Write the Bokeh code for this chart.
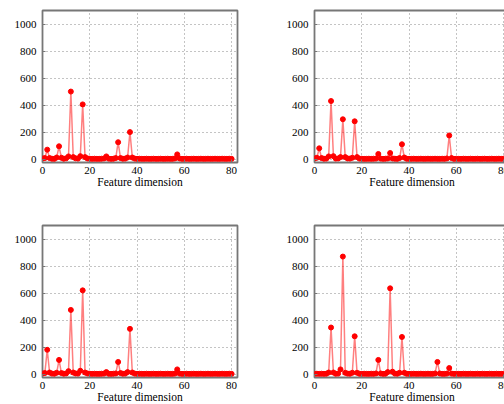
import numpy as np
from bokeh.plotting import figure
from bokeh.layouts import gridplot, column
from bokeh.models import FixedTicker, Range1d
from bokeh.embed import file_html
from bokeh.resources import INLINE

dims = list(range(81))
x_ticks = [0, 20, 40, 60, 80]
y_ticks = [0, 200, 400, 600, 800, 1000]
x_label = "Feature dimension"

s1 = [
    5, 8, 70, 8, 3, 2, 12, 95, 10, 3,
    6, 20, 500, 15, 6, 4, 22, 405, 15, 5,
    3, 2, 3, 2, 2, 3, 5, 20, 4, 2,
    3, 8, 125, 8, 3, 4, 12, 200, 12, 4,
    2, 3, 2, 2, 3, 2, 2, 3, 2, 2,
    3, 2, 2, 3, 2, 2, 5, 35, 5, 2,
    2, 3, 2, 2, 3, 2, 2, 3, 2, 2,
    3, 2, 2, 3, 2, 2, 3, 2, 2, 3,
    2]

s2 = [
    5, 10, 80, 8, 3, 4, 20, 430, 22, 4,
    5, 15, 295, 15, 5, 4, 10, 280, 15, 4,
    3, 2, 2, 3, 2, 3, 4, 38, 4, 2,
    3, 5, 45, 5, 3, 2, 8, 110, 12, 3,
    2, 2, 3, 2, 2, 3, 2, 2, 3, 2,
    2, 3, 2, 2, 3, 2, 5, 175, 8, 2,
    3, 2, 2, 3, 2, 2, 3, 2, 2, 3,
    2, 2, 3, 2, 2, 3, 2, 2, 3, 2,
    3]

s3 = [
    5, 8, 180, 12, 4, 3, 10, 105, 8, 3,
    5, 22, 475, 12, 5, 4, 25, 620, 12, 5,
    3, 2, 3, 2, 2, 3, 4, 15, 3, 2,
    3, 5, 90, 8, 3, 4, 15, 335, 12, 4,
    2, 3, 2, 2, 3, 2, 2, 3, 2, 2,
    3, 2, 2, 3, 2, 2, 4, 35, 4, 2,
    2, 3, 2, 2, 3, 2, 2, 3, 2, 2,
    3, 2, 2, 3, 2, 2, 3, 2, 2, 3,
    2]

s4 = [
    3, 3, 2, 3, 2, 3, 12, 345, 12, 3,
    4, 35, 870, 10, 4, 3, 10, 280, 10, 3,
    2, 3, 2, 2, 3, 2, 5, 105, 5, 2,
    3, 15, 635, 18, 4, 3, 10, 275, 10, 3,
    2, 2, 3, 2, 2, 3, 2, 2, 3, 2,
    2, 5, 90, 5, 2, 2, 4, 45, 4, 2,
    3, 2, 2, 3, 2, 2, 3, 2, 2, 3,
    2, 3, 2, 2, 3, 2, 2, 3, 2, 2,
    3]

FONT = "'Liberation Serif', 'DejaVu Serif', serif"


def make(vals):
    p = figure(width=272, height=215,
               x_range=Range1d(0, 82.5), y_range=Range1d(-25, 1100),
               output_backend="svg", toolbar_location=None,
               min_border_left=34, min_border_right=43,
               min_border_top=2, min_border_bottom=61)
    p.outline_line_color = "#777777"
    p.outline_line_width = 1.8
    p.background_fill_color = "white"
    p.border_fill_color = "white"

    p.line(dims, vals, line_color="red", line_alpha=0.5, line_width=1.5)
    p.scatter(dims, vals, size=5, fill_color="red", line_color="red")

    p.xaxis.ticker = FixedTicker(ticks=x_ticks)
    p.yaxis.ticker = FixedTicker(ticks=y_ticks)
    for ax in (p.xaxis[0], p.yaxis[0]):
        ax.axis_line_color = None
        ax.major_tick_in = 3
        ax.major_tick_out = 0
        ax.major_tick_line_color = "#777777"
        ax.minor_tick_line_color = None
        ax.major_label_text_font = FONT
        ax.major_label_text_font_size = "11px"
        ax.major_label_text_color = "black"
        ax.major_label_standoff = 4
    p.yaxis.major_label_standoff = 6
    p.xaxis.axis_label = x_label
    p.xaxis.axis_label_text_font = FONT
    p.xaxis.axis_label_text_font_size = "11.5px"
    p.xaxis.axis_label_text_font_style = "normal"
    p.xaxis.axis_label_text_color = "black"
    p.xaxis.axis_label_standoff = -1

    p.grid.grid_line_color = "#888888"
    p.grid.grid_line_dash = "1 3"
    p.grid.grid_line_width = 1
    return p


p1 = make(s1)
p2 = make(s2)
p3 = make(s3)
p4 = make(s4)

gp = gridplot([[p1, p2], [p3, p4]], toolbar_location=None)
p = column(gp, width=496, height=396,
           styles={"overflow": "hidden", "position": "absolute",
                   "top": "8px", "left": "8px"})

open("out.html", "w").write(file_html(p, INLINE))
